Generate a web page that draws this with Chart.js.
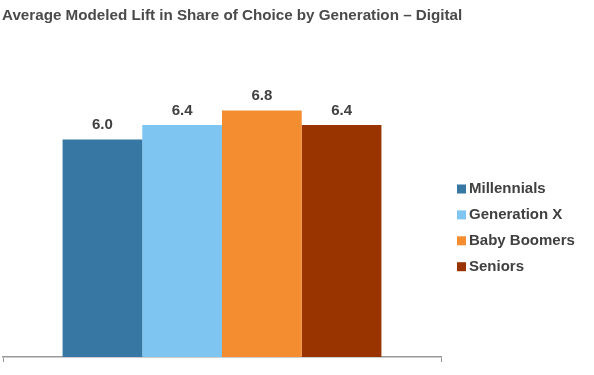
<!DOCTYPE html>
<html>
<head>
<meta charset="utf-8">
<script src="https://cdn.jsdelivr.net/npm/chart.js@4"></script>
<style>
  html, body { margin: 0; padding: 0; background: #fff; }
  #wrap { width: 594px; height: 375px; position: relative; }
</style>
</head>
<body>
<div id="wrap"><canvas id="chart"></canvas></div>
<script>
const chartTitle = "Average Modeled Lift in Share of Choice by Generation \u2013 Digital";
const categories = ["Digital"];
const seriesNames = ["Millennials", "Generation X", "Baby Boomers", "Seniors"];
const seriesValues = [6.0, 6.4, 6.8, 6.4];
const seriesColors = ["#3777a4", "#7ec6f1", "#f38d2f", "#993300"];

const textColor = "#404040";
const fontFamily = "'Liberation Sans', Arial, sans-serif";

// title, value labels and legend drawn on top of the chart
const extras = {
    id: "extras",
    afterDraw(chart) {
        const ctx = chart.ctx;
        ctx.save();

        ctx.fillStyle = "#4a4a4a";
        ctx.font = "bold 15.2px " + fontFamily;
        ctx.textAlign = "left";
        ctx.textBaseline = "middle";
        ctx.fillText(chartTitle, 2, 16);

        ctx.fillStyle = textColor;
        ctx.font = "bold 15px " + fontFamily;
        ctx.textAlign = "center";
        ctx.textBaseline = "bottom";
        chart.data.datasets.forEach((ds, i) => {
            chart.getDatasetMeta(i).data.forEach((bar, j) => {
                ctx.fillText(ds.data[j].toFixed(1), bar.x, bar.y - 7);
            });
        });

        ctx.textAlign = "left";
        ctx.textBaseline = "middle";
        chart.data.datasets.forEach((ds, i) => {
            const y = 189 + i * 25.9;
            ctx.fillStyle = ds.backgroundColor;
            ctx.fillRect(457, y - 4.5, 9, 9);
            ctx.fillStyle = textColor;
            ctx.fillText(ds.label, 469, y);
        });

        ctx.restore();
    }
};

new Chart(document.getElementById("chart"), {
    type: "bar",
    data: {
        labels: categories,
        datasets: seriesNames.map((name, i) => ({
            label: name,
            data: [seriesValues[i]],
            backgroundColor: seriesColors[i],
            categoryPercentage: 0.728,
            barPercentage: 1.0
        }))
    },
    options: {
        responsive: true,
        maintainAspectRatio: false,
        animation: false,
        layout: { padding: { left: 3, right: 153, top: 67, bottom: 13 } },
        plugins: {
            legend: { display: false },
            tooltip: { enabled: false }
        },
        scales: {
            x: {
                grid: { drawOnChartArea: false, tickLength: 5, color: "#999999", offset: true },
                border: { color: "#999999", width: 1.5 },
                ticks: { display: false }
            },
            y: {
                display: false,
                min: 0,
                max: 8
            }
        }
    },
    plugins: [extras]
});
</script>
</body>
</html>
